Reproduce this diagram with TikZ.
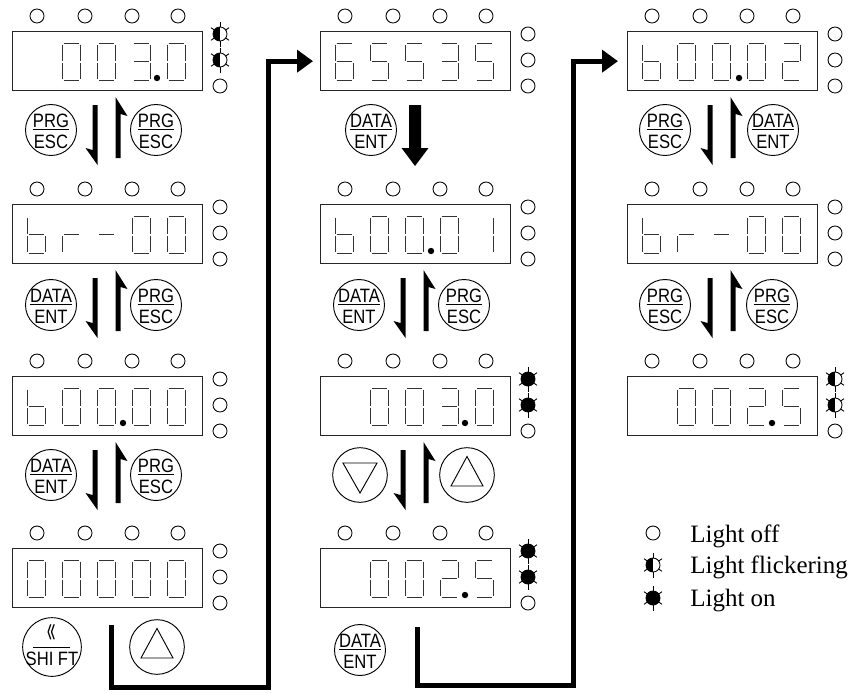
\documentclass[tikz,border=0pt]{standalone}
\usepackage{fontspec}
\setmainfont{Liberation Serif}
\newfontfamily\btnfamily[FakeStretch=0.86]{Liberation Sans}
\usetikzlibrary{calc,arrows.meta}

\tikzset{
  dispbox/.style={draw=black!85, line width=1pt, rectangle, minimum width=142.5pt, minimum height=44.25pt, inner sep=0pt, anchor=north west},
  ledoff/.style={draw, circle, line width=0.65pt, minimum size=10.5pt, inner sep=0pt},
  ledon/.style={draw, fill, circle, line width=0.65pt, minimum size=10.5pt, inner sep=0pt},
  ledfl/.style={draw, circle, line width=0.65pt, minimum size=10.5pt, inner sep=0pt,
    path picture={\fill (path picture bounding box.south west) rectangle (path picture bounding box.north);}},
  seg/.style={line width=0.75pt, draw=black!80},
  btn/.style={draw, circle, line width=0.7pt, minimum size=38.25pt, inner sep=0pt},
  tribtn/.style={btn, minimum size=41pt},
  btntxt/.style={inner sep=0pt, font=\btnfamily\fontsize{14.5pt}{15pt}\selectfont},
  conn/.style={line width=3.75pt, -{Triangle[length=12pt,width=16.5pt]}},
  legtxt/.style={inner sep=0pt, anchor=base west, font=\fontsize{18.75pt}{20pt}\selectfont},
}

% seven segment pieces
\newcommand\SGa[2]{\draw[seg] (#1+1.5,#2) -- (#1+16.5,#2);}
\newcommand\SGb[2]{\draw[seg] (#1+18,#2+1.5) -- (#1+18,#2+17.5);}
\newcommand\SGc[2]{\draw[seg] (#1+18,#2+19.5) -- (#1+18,#2+35.5);}
\newcommand\SGd[2]{\draw[seg] (#1+1.5,#2+37) -- (#1+16.5,#2+37);}
\newcommand\SGe[2]{\draw[seg] (#1,#2+19.5) -- (#1,#2+35.5);}
\newcommand\SGf[2]{\draw[seg] (#1,#2+1.5) -- (#1,#2+17.5);}
\newcommand\SGg[2]{\draw[seg] (#1+1.5,#2+18.5) -- (#1+16.5,#2+18.5);}
\newcommand\SGnone[2]{}
\def\Dn{none}
\def\Dz{a,b,c,d,e,f}
\def\Do{b,c}
\def\Dt{a,b,g,e,d}
\def\Dth{a,b,g,c,d}
\def\Df{a,f,g,c,d}
\def\Ds{a,f,e,d,c,g}
\def\Db{f,e,g,c,d}
\def\Dr{e,g}
\def\Dm{g}
\newcommand\digit[3]{\foreach \s in #3 {\csname SG\s\endcsname{#1}{#2}}}
\newcommand\digs[7]{\digit{#1+15}{#2+12}{#3}\digit{#1+50}{#2+12}{#4}\digit{#1+85}{#2+12}{#5}\digit{#1+120}{#2+12}{#6}\digit{#1+155}{#2+12}{#7}}
\newcommand\dpt[3]{\fill (#1+#3,#2+47) circle[radius=3.2];}

% LEDs
\newcommand\rays[1]{\foreach \a/\r in {90/12.5,270/12.5,35/11,145/11,215/11,325/11} {\draw[line width=0.65pt] ($(#1.center)+(\a:7)$) -- ($(#1.center)+(\a:\r)$);}}
\newcommand\LEDoff[3]{\node[ledoff] (#1) at (#2,#3) {};}
\newcommand\LEDon[3]{\node[ledon] (#1) at (#2,#3) {}; \rays{#1}}
\newcommand\LEDfl[3]{\node[ledfl] (#1) at (#2,#3) {}; \rays{#1}}

\newcommand\disp[6]{%
  \node[dispbox] (#1) at (#2,#3) {};
  \foreach \i/\dx in {1/25,2/73,3/120,4/166} {\node[ledoff] (#1t\i) at (#2+\dx,#3-15) {};}
  \csname LED#4\endcsname{#1s1}{#2+208}{#3+3}
  \csname LED#5\endcsname{#1s2}{#2+208}{#3+29}
  \csname LED#6\endcsname{#1s3}{#2+208}{#3+55}
}

% buttons
\newcommand\tbtn[5]{%
  \node[btn] (#1) at (#2,#3) {};
  \node[btntxt, anchor=base] (#1u) at ($(#1.center)+(0,-2.5)$) {#4};
  \node[btntxt, anchor=base] (#1l) at ($(#1.center)+(0,18)$) {#5};
  \draw[line width=0.7pt] ($(#1u.base west)+(0,2)$) -- ($(#1u.base east)+(0,2)$);
}
\newcommand\ubtn[3]{\node[tribtn] (#1) at (#2,#3) {};
  \draw[line width=0.7pt] ($(#1.center)+(0,-18.5)$) -- ($(#1.center)+(16,11)$) -- ($(#1.center)+(-16,11)$) -- cycle;}
\newcommand\dbtn[3]{\node[tribtn] (#1) at (#2,#3) {};
  \draw[line width=0.7pt] ($(#1.center)+(0,18)$) -- ($(#1.center)+(17,-12)$) -- ($(#1.center)+(-17,-12)$) -- cycle;}

% half arrows between displays: x left of display, y bottom of upper display
\newcommand\harps[2]{%
  \fill (#1+85.5,#2+15) -- (#1+85.5,#2+75) -- (#1+73.5,#2+58) -- (#1+80.5,#2+60) -- (#1+80.5,#2+15) -- cycle;
  \fill (#1+103.5,#2+68) -- (#1+103.5,#2+7) -- (#1+115.5,#2+26) -- (#1+108.5,#2+24) -- (#1+108.5,#2+68) -- cycle;
}

\begin{document}
\begin{tikzpicture}[x=0.75pt,y=-0.75pt]
\fill[white] (0,0) rectangle (852,693);
\useasboundingbox (0,0) rectangle (852,693);

% ---------- column 1 ----------
\disp{D11}{12}{31}{fl}{fl}{off}
\digs{12}{31}{\Dn}{\Dz}{\Dz}{\Dth}{\Dz}\dpt{12}{31}{145}
\disp{D12}{12}{204}{off}{off}{off}
\digs{12}{204}{\Db}{\Dr}{\Dm}{\Dz}{\Dz}
\disp{D13}{12}{376}{off}{off}{off}
\digs{12}{376}{\Db}{\Dz}{\Dz}{\Dz}{\Dz}\dpt{12}{376}{111}
\disp{D14}{12}{548}{off}{off}{off}
\digs{12}{548}{\Dz}{\Dz}{\Dz}{\Dz}{\Dz}

\tbtn{B11}{51}{130}{PRG}{ESC}
\tbtn{B12}{156}{130}{PRG}{ESC}
\harps{12}{90}
\tbtn{B13}{51}{305}{DATA}{ENT}
\tbtn{B14}{156}{305}{PRG}{ESC}
\harps{12}{263}
\tbtn{B15}{51}{475}{DATA}{ENT}
\tbtn{B16}{156}{475}{PRG}{ESC}
\harps{12}{435}

\node[btn, minimum size=44pt] (S) at (52,647) {};
\node[btntxt, anchor=base] (Su) at ($(S.center)+(0,-5)$) {\scalebox{0.9}[2.0]{«}};
\draw[line width=0.7pt] ($(S.center)+(-19,0)$) -- ($(S.center)+(18,0)$);
\node[btntxt, anchor=base] (Sl) at ($(S.center)+(0,18)$) {SHI FT};
\ubtn{U1}{157}{647}

% ---------- column 2 ----------
\disp{D21}{320}{31}{off}{off}{off}
\digs{320}{31}{\Ds}{\Df}{\Df}{\Dth}{\Df}
\disp{D22}{320}{204}{off}{off}{off}
\digs{320}{204}{\Db}{\Dz}{\Dz}{\Dz}{\Do}\dpt{320}{204}{111}
\disp{D23}{320}{376}{on}{on}{off}
\digs{320}{376}{\Dn}{\Dz}{\Dz}{\Dth}{\Dz}\dpt{320}{376}{145}
\disp{D24}{320}{548}{on}{on}{off}
\digs{320}{548}{\Dn}{\Dz}{\Dz}{\Dt}{\Df}\dpt{320}{548}{145}

\tbtn{B21}{371}{130}{DATA}{ENT}
\fill (409,105) -- (409,148) -- (401.5,148) -- (415,166) -- (428.5,148) -- (421,148) -- (421,105) -- cycle;
\tbtn{B22}{359}{305}{DATA}{ENT}
\tbtn{B23}{464}{305}{PRG}{ESC}
\harps{320}{263}
\dbtn{V2}{360}{475}
\ubtn{U2}{467}{475}
\harps{320}{435}
\tbtn{B24}{360}{650}{DATA}{ENT}

% ---------- column 3 ----------
\disp{D31}{627}{31}{off}{off}{off}
\digs{627}{31}{\Db}{\Dz}{\Dz}{\Dz}{\Dt}\dpt{627}{31}{112}
\disp{D32}{627}{204}{off}{off}{off}
\digs{627}{204}{\Db}{\Dr}{\Dm}{\Dz}{\Dz}
\disp{D33}{627}{376}{fl}{fl}{off}
\digs{627}{376}{\Dn}{\Dz}{\Dz}{\Dt}{\Df}\dpt{627}{376}{145}

\tbtn{B31}{665}{130}{PRG}{ESC}
\tbtn{B32}{773}{130}{DATA}{ENT}
\harps{627}{90}
\tbtn{B33}{665}{305}{PRG}{ESC}
\tbtn{B34}{772}{305}{PRG}{ESC}
\harps{627}{263}

% ---------- connectors ----------
\coordinate (c1s) at (111,625);
\coordinate (c1b) at (268,687);
\draw[conn] (c1s) |- (c1b) |- ([xshift=-5.25pt]D21.west);
\coordinate (c2s) at (417,627);
\coordinate (c2b) at (573,685);
\draw[conn] (c2s) |- (c2b) |- ([xshift=-6.75pt]D31.west);

% ---------- legend ----------
\LEDoff{L1}{653}{533}
\LEDfl{L2}{653}{565}
\LEDon{L3}{653}{598}
\node[legtxt] (T1) at (690,542) {Light off};
\node[legtxt] (T2) at (690,573) {Light flickering};
\node[legtxt] (T3) at (690,606) {Light on};
\end{tikzpicture}
\end{document}
